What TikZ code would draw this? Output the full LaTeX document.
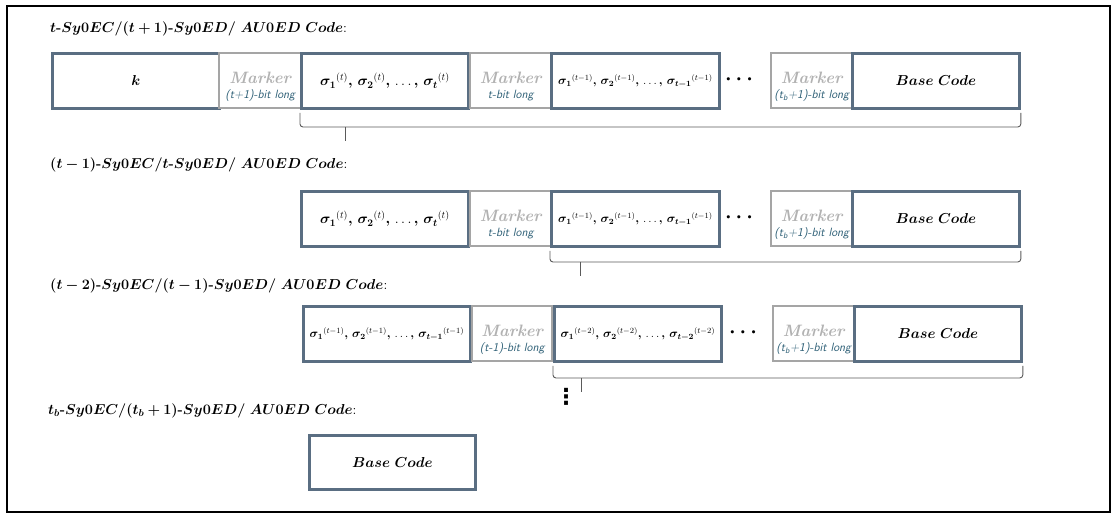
\documentclass[tikz,border=0pt]{standalone}
\usepackage{amsmath,bm}
\usepackage{fontspec}
\newfontfamily\djv{DejaVu Sans}
\usetikzlibrary{calc}
\definecolor{boxc}{RGB}{90,110,130}
\definecolor{markc}{RGB}{165,165,165}
\definecolor{mtxt}{RGB}{178,178,178}
\definecolor{tealc}{RGB}{45,95,118}
\definecolor{brcc}{RGB}{90,90,90}
\tikzset{
  cbox/.style={draw=boxc, line width=2.8pt, fill=white, anchor=north west, inner sep=0pt, minimum height=55pt, font=\fontsize{14.4}{16}\selectfont},
  sbox/.style={cbox, font=\fontsize{14.4}{16}\selectfont},
  tbox/.style={cbox, font=\fontsize{12}{13}\selectfont},
  mbox/.style={draw=markc, line width=2.4pt, fill=white, anchor=north west, inner sep=0pt, minimum height=55pt, align=center},
  lbl/.style={anchor=west, inner sep=0pt, font=\fontsize{14}{16}\selectfont},
  brc/.style={draw=brcc, line width=0.9pt, rounded corners=3pt},
  dts/.style={inner sep=0pt, font=\fontsize{21}{21}\selectfont},
  vdts/.style={inner sep=0pt, font=\fontsize{22}{22}\selectfont\djv\bfseries},
}
\newcommand{\mk}[1]{\rule{0pt}{24pt}{\color{mtxt}\fontsize{16.5}{15}\selectfont\bfseries\itshape Marker}\\[3pt]{\color{tealc}\fontsize{12}{12}\selectfont\sffamily\itshape #1}}
\newcommand{\bcode}{$\bm{Base\ Code}$}
\newcommand{\sg}[2]{\bm{\sigma_{#1}}{}^{(#2)}}
\newcommand{\sgl}[2]{$\sg{1}{#2}\bm{,}\,\sg{2}{#2}\bm{,}\,\ldots\bm{,}\,\sg{#1}{#2}$}
\begin{document}
\begin{tikzpicture}[x=1pt,y=-1pt]
\useasboundingbox (0,0) rectangle (1116,518);
\draw[line width=1.8pt] (7,6) rectangle (1110,512);

% row 1
\node[lbl] (l1) at (50,29) {$\bm{t}$\textbf{-}$\bm{Sy0EC/(t+1)}$\textbf{-}$\bm{Sy0ED/\ AU0ED\ Code}$:};
\node[cbox, minimum width=167pt] (k) at (51,52) {$\bm{k}$};
\node[mbox, minimum width=82pt] (m1) at (218,52) {\mk{(t+1)-bit long}};
\node[sbox, minimum width=167pt] (s1) at (300,52) {\sgl{t}{t}};
\node[mbox, minimum width=81pt] (m2) at (469,52) {\mk{t-bit long}};
\node[tbox, minimum width=168pt] (s2) at (550,52) {\sgl{t-1}{t-1}};
\node[dts] (d1) at (741,80) {$\bm{\cdots}$};
\node[mbox, minimum width=81pt] (m3) at (770,52) {\mk{(t\textsubscript{b}+1)-bit long}};
\node[cbox, minimum width=167pt] (b1) at (851,52) {\bcode};
\coordinate (t1) at (345,127);
\draw[brc] ([yshift=-3pt]s1.south west) |- (t1) -| ([yshift=-3pt]b1.south east);
\draw[brc] (t1) -- ++(0,14);

% row 2
\node[lbl] (l2) at (50,165) {$\bm{(t-1)}$\textbf{-}$\bm{Sy0EC/t}$\textbf{-}$\bm{Sy0ED/\ AU0ED\ Code}$:};
\node[sbox, minimum width=167pt] (s1b) at (300,190) {\sgl{t}{t}};
\node[mbox, minimum width=81pt] (m2b) at (469,190) {\mk{t-bit long}};
\node[tbox, minimum width=168pt] (s2b) at (550,190) {\sgl{t-1}{t-1}};
\node[dts] (d2) at (741,218) {$\bm{\cdots}$};
\node[mbox, minimum width=81pt] (m3b) at (770,190) {\mk{(t\textsubscript{b}+1)-bit long}};
\node[cbox, minimum width=167pt] (b2) at (851,190) {\bcode};
\coordinate (t2) at (580,262);
\draw[brc] ([yshift=-3pt]s2b.south west) |- (t2) -| ([yshift=-3pt]b2.south east);
\draw[brc] (t2) -- ++(0,14);

% row 3
\node[lbl] (l3) at (50,286) {$\bm{(t-2)}$\textbf{-}$\bm{Sy0EC/(t-1)}$\textbf{-}$\bm{Sy0ED/\ AU0ED\ Code}$:};
\node[tbox, minimum width=167pt] (s2c) at (302,305) {\sgl{t-1}{t-1}};
\node[mbox, minimum width=80pt] (m4) at (471,305) {\mk{(t-1)-bit long}};
\node[tbox, minimum width=167pt] (s3) at (553,305) {\sgl{t-2}{t-2}};
\node[dts] (d3) at (745,333) {$\bm{\cdots}$};
\node[mbox, minimum width=81pt] (m3c) at (772,305) {\mk{(t\textsubscript{b}+1)-bit long}};
\node[cbox, minimum width=167pt] (b3) at (853,305) {\bcode};
\coordinate (t3) at (581,378);
\draw[brc] ([yshift=-3pt]s3.south west) |- (t3) -| ([yshift=-3pt]b3.south east);
\draw[brc] (t3) -- ++(0,14);
\node[vdts] (vd) at (566,397) {⋮};

% row 4
\node[lbl] (l4) at (48,411) {$\bm{t_b}$\textbf{-}$\bm{Sy0EC/(t_b+1)}$\textbf{-}$\bm{Sy0ED/\ AU0ED\ Code}$:};
\node[cbox, minimum width=166pt, minimum height=54pt] (b4) at (308,434) {\bcode};
\end{tikzpicture}
\end{document}
